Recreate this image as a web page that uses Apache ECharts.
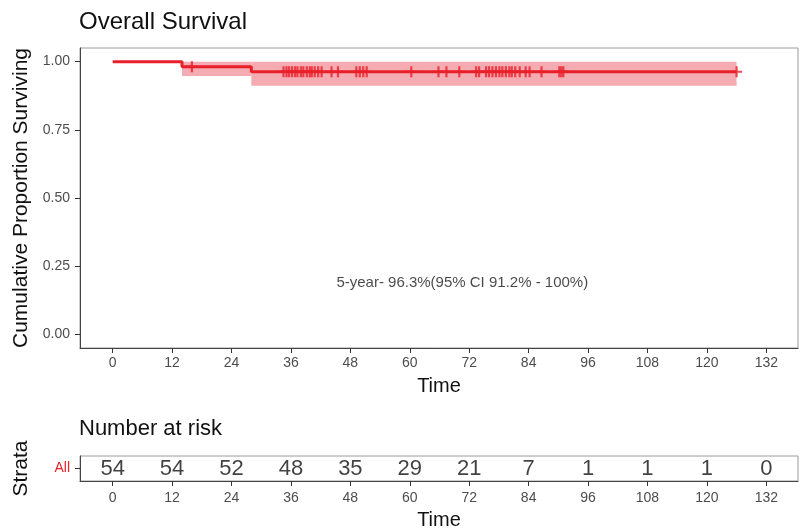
<!DOCTYPE html>
<html>
<head>
<meta charset="utf-8">
<script src="https://cdn.jsdelivr.net/npm/echarts@6/dist/echarts.min.js"></script>
<style>html,body{margin:0;padding:0;background:#fff}#c{width:801px;height:531px}</style>
</head>
<body>
<div id="c"></div>
<script>
// ---- data ----
const xTicks = [0, 12, 24, 36, 48, 60, 72, 84, 96, 108, 120, 132];
const yTicks = [0, 0.25, 0.5, 0.75, 1];
const yTickLabels = ['0.00', '0.25', '0.50', '0.75', '1.00'];
const stepTimes = [0, 14, 28, 126];
const stepSurv = [1, 0.9815, 0.963, 0.963];
const ciStart = [14, 28];
const ciEnd = [28, 126];
const ciLower = [0.947, 0.912];
const ciUpper = [1, 1];
const censorTimes = [16, 34.5, 35.1, 35.6, 36.2, 36.8, 37.3, 38.0, 38.5, 39.2, 39.8, 40.2, 40.8, 41.5, 42.2,
  44.2, 45.5, 49.2, 49.9, 50.6, 51.3, 60.3, 65.8, 67.4, 70.0, 73.4, 74.0, 75.4, 76.0, 76.7, 77.4, 78.1,
  78.7, 79.4, 80.1, 80.6, 81.3, 82.2, 83.4, 84.2, 86.6, 90.2, 90.6, 91.0, 126];
const riskTimes = xTicks;
const riskCounts = [54, 54, 52, 48, 35, 29, 21, 7, 1, 1, 1, 0];
const strata = ['All'];
const annotationText = '5-year- 96.3%(95% CI 91.2% - 100%)';
const annotationPos = [70.6, 0.19];

// ---- helpers ----
function survAt(t) {
  let s = stepSurv[0];
  for (let i = 0; i < stepTimes.length; i++) if (stepTimes[i] <= t) s = stepSurv[i];
  return s;
}
const lineColor = '#e8202a';
const bandColor = '#f5abb2';
const FONT = '"Liberation Sans", Arial, sans-serif';
const X_MIN = -6.6, X_MAX = 138.4;

const chart = echarts.init(document.getElementById('c'), null, {renderer: 'canvas'});

function xAxisCfg(gridIndex, margin, nameGap) {
  return {
    type: 'value', gridIndex, min: X_MIN, max: X_MAX,
    name: 'Time', nameLocation: 'middle', nameGap: nameGap,
    nameTextStyle: {fontFamily: FONT, fontSize: 20, color: '#111'},
    axisLine: {show: true, onZero: false, lineStyle: {color: '#444', width: 1}},
    axisTick: {show: true, length: 5, lineStyle: {color: '#333'}, customValues: xTicks},
    axisLabel: {show: true, margin: margin, fontFamily: FONT, fontSize: 14, color: '#4d4d4d',
      customValues: xTicks, formatter: v => String(v)},
    splitLine: {show: false}
  };
}

const option = {
  backgroundColor: '#fff',
  animation: false,
  title: [
    {text: 'Overall Survival', left: 79, top: 10, padding: 0,
      textStyle: {fontFamily: FONT, fontSize: 24, fontWeight: 'normal', color: '#111', lineHeight: 24}},
    {text: 'Number at risk', left: 79, top: 418, padding: 0,
      textStyle: {fontFamily: FONT, fontSize: 22, fontWeight: 'normal', color: '#111', lineHeight: 22}}
  ],
  grid: [
    {left: 80, right: 3, top: 48, height: 300, show: true, borderColor: '#9a9a9a', borderWidth: 1, backgroundColor: '#fff'},
    {left: 80, right: 3, top: 456, height: 27, show: true, borderColor: '#9a9a9a', borderWidth: 1, backgroundColor: '#fff'}
  ],
  xAxis: [xAxisCfg(0, 8, 28), xAxisCfg(1, 10, 29)],
  yAxis: [
    {type: 'value', gridIndex: 0, min: -0.05, max: 1.05,
      name: 'Cumulative Proportion Surviving', nameLocation: 'middle', nameGap: 46,
      nameTextStyle: {fontFamily: FONT, fontSize: 21, color: '#111'},
      axisLine: {show: true, onZero: false, lineStyle: {color: '#444', width: 1}},
      axisTick: {show: true, length: 5, lineStyle: {color: '#333'}, customValues: yTicks},
      axisLabel: {show: true, margin: 10, fontFamily: FONT, fontSize: 14, color: '#4d4d4d',
        customValues: yTicks, formatter: v => yTickLabels[yTicks.indexOf(v)] ?? v.toFixed(2)},
      splitLine: {show: false}},
    {type: 'category', gridIndex: 1, data: strata,
      name: 'Strata', nameLocation: 'middle', nameGap: 48,
      nameTextStyle: {fontFamily: FONT, fontSize: 21, color: '#111'},
      axisLine: {show: true, onZero: false, lineStyle: {color: '#444', width: 1}},
      axisTick: {show: true, length: 5, alignWithLabel: true, lineStyle: {color: '#333'}},
      axisLabel: {show: true, margin: 10, fontFamily: FONT, fontSize: 14, color: lineColor},
      splitLine: {show: false}}
  ],
  series: [
    {type: 'custom', xAxisIndex: 0, yAxisIndex: 0, z: 1, silent: true,
      data: ciStart.map((s, i) => [s, ciEnd[i], ciLower[i], ciUpper[i]]),
      encode: {x: [0, 1], y: [2, 3]},
      renderItem: function (params, api) {
        const p0 = api.coord([api.value(0), api.value(3)]);
        const p1 = api.coord([api.value(1), api.value(2)]);
        return {type: 'rect', shape: {x: p0[0], y: p0[1], width: p1[0] - p0[0], height: p1[1] - p0[1]},
          style: {fill: bandColor}};
      }},
    {type: 'line', xAxisIndex: 0, yAxisIndex: 0, z: 2, step: 'end', showSymbol: false, symbol: 'none',
      data: stepTimes.map((t, i) => [t, stepSurv[i]]),
      lineStyle: {color: lineColor, width: 3}},
    {type: 'scatter', xAxisIndex: 0, yAxisIndex: 0, z: 3,
      symbol: 'path://M4,0H6V4H10V6H6V10H4V6H0V4H4Z', symbolSize: [11, 11],
      itemStyle: {color: lineColor},
      data: censorTimes.map(t => [t, survAt(t)])},
    {type: 'scatter', xAxisIndex: 0, yAxisIndex: 0, z: 4, symbolSize: 1,
      itemStyle: {color: 'rgba(0,0,0,0)'},
      label: {show: true, position: 'inside', formatter: annotationText,
        fontFamily: FONT, fontSize: 15, color: '#1a1a1a'},
      data: [annotationPos]},
    {type: 'scatter', xAxisIndex: 1, yAxisIndex: 1, z: 4, symbolSize: 1,
      itemStyle: {color: 'rgba(0,0,0,0)'},
      label: {show: true, position: 'inside', formatter: p => String(p.value[2]),
        fontFamily: FONT, fontSize: 22, color: '#111'},
      data: riskTimes.map((t, i) => [t, strata[0], riskCounts[i]])}
  ]
};
chart.setOption(option);
</script>
</body>
</html>
